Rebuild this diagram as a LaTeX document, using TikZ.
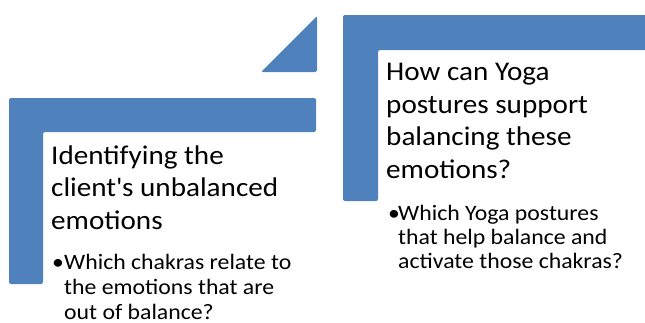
\documentclass[tikz,border=0pt]{standalone}
\usepackage{fontspec}
\setmainfont[FakeStretch=1.08]{Carlito}
\definecolor{stepblue}{HTML}{4F81BD}

\begin{document}
\begin{tikzpicture}[x=1pt,y=-1pt,
  bar/.style={fill=stepblue,rounded corners=2pt},
  headtext/.style={anchor=base west,inner sep=0pt,align=left,font=\fontsize{27}{32.5}\selectfont},
  bullettext/.style={anchor=base west,inner sep=0pt,align=left,font=\fontsize{22}{25}\selectfont}]
		\useasboundingbox (0,0) rectangle (645,322);
		\fill[bar] (9,98) -- (316,98) -- (316,132) -- (43,132) -- (43,284) -- (9,284) -- cycle; % left step
		\fill[bar] (343,15) -- (652,15) -- (652,50) -- (378,50) -- (378,201) -- (343,201) -- cycle; % right step
		\fill[bar] (317,16) -- (317,72) -- (261,72) -- cycle; % arrow head
		% multi-line nodes sit on their last baseline
		\node[headtext] (lefthead) at (51,229) {Identifying the\\client\textquotesingle s unbalanced\\emotions};
		\node[bullettext] (leftdot) at (52,269) {•};
		\node[bullettext] (leftbullet) at (64,319) {Which chakras relate to\\the emotions that are\\out of balance?};
		\node[headtext] (righthead) at (386,178) {How can Yoga\\postures support\\balancing these\\emotions?};
		\node[bullettext,font=\fontsize{22}{24}\selectfont] (rightdot) at (388,220) {•};
		\node[bullettext,font=\fontsize{22}{24}\selectfont] (rightbullet) at (398,268) {Which Yoga postures\\that help balance and\\activate those chakras?};
\end{tikzpicture}
\end{document}
